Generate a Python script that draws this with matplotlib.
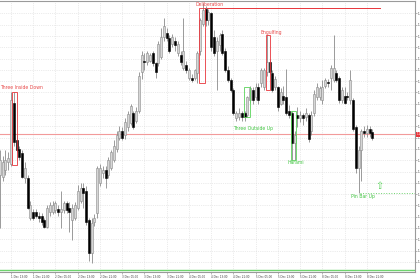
import numpy as np
import matplotlib.pyplot as plt
from matplotlib.patches import Rectangle
import matplotlib.transforms as mtransforms

# H1 candles, bar 4 = 1 Dec 13:00
opens = [1.2317, 1.2315, 1.2321, 1.2328, 1.2327, 1.2381, 1.2348, 1.2340, 1.2336, 1.2314,
         1.2314, 1.2279, 1.2284, 1.2284, 1.2281, 1.2281, 1.2277, 1.2271, 1.2284, 1.2284,
         1.2286, 1.2287, 1.2284, 1.2286, 1.2292, 1.2288, 1.2277, 1.2279, 1.2288, 1.2294,
         1.2305, 1.2303, 1.2277, 1.2248, 1.2275, 1.2283, 1.2310, 1.2319, 1.2321, 1.2317,
         1.2323, 1.2330, 1.2340, 1.2350, 1.2356, 1.2352, 1.2359, 1.2363, 1.2372, 1.2365,
         1.2374, 1.2408, 1.2418, 1.2417, 1.2418, 1.2425, 1.2416, 1.2416, 1.2421, 1.2439,
         1.2443, 1.2438, 1.2433, 1.2436, 1.2425, 1.2423, 1.2412, 1.2414, 1.2403, 1.2403,
         1.2403, 1.2407, 1.2427, 1.2451, 1.2464, 1.2454, 1.2460, 1.2439, 1.2427, 1.2432,
         1.2442, 1.2427, 1.2410, 1.2401, 1.2392, 1.2367, 1.2368, 1.2372, 1.2372, 1.2370,
         1.2383, 1.2392, 1.2386, 1.2395, 1.2398, 1.2395, 1.2408, 1.2417, 1.2407, 1.2395,
         1.2395, 1.2380, 1.2387, 1.2386, 1.2374, 1.2372, 1.2345, 1.2370, 1.2367, 1.2370,
         1.2368, 1.2370, 1.2356, 1.2372, 1.2386, 1.2386, 1.2383, 1.2396, 1.2399, 1.2403,
         1.2401, 1.2407, 1.2403, 1.2383, 1.2387, 1.2387, 1.2383, 1.2383, 1.2359, 1.2323,
         1.2339, 1.2356, 1.2354, 1.2358, 1.2355]
highs = [1.2339, 1.2334, 1.2339, 1.2337, 1.2390, 1.2390, 1.2352, 1.2343, 1.2339, 1.2328,
         1.2317, 1.2294, 1.2287, 1.2287, 1.2284, 1.2283, 1.2279, 1.2290, 1.2293, 1.2294,
         1.2294, 1.2290, 1.2303, 1.2294, 1.2294, 1.2293, 1.2291, 1.2293, 1.2308, 1.2310,
         1.2310, 1.2307, 1.2279, 1.2279, 1.2282, 1.2325, 1.2327, 1.2325, 1.2325, 1.2333,
         1.2339, 1.2348, 1.2356, 1.2360, 1.2359, 1.2367, 1.2374, 1.2380, 1.2374, 1.2377,
         1.2408, 1.2427, 1.2425, 1.2427, 1.2425, 1.2427, 1.2417, 1.2436, 1.2447, 1.2456,
         1.2447, 1.2441, 1.2442, 1.2439, 1.2436, 1.2427, 1.2456, 1.2418, 1.2412, 1.2406,
         1.2411, 1.2427, 1.2456, 1.2469, 1.2467, 1.2464, 1.2461, 1.2445, 1.2439, 1.2443,
         1.2445, 1.2429, 1.2413, 1.2403, 1.2394, 1.2374, 1.2376, 1.2374, 1.2374, 1.2387,
         1.2396, 1.2395, 1.2398, 1.2398, 1.2412, 1.2412, 1.2441, 1.2420, 1.2410, 1.2405,
         1.2396, 1.2394, 1.2396, 1.2411, 1.2379, 1.2374, 1.2356, 1.2377, 1.2374, 1.2372,
         1.2376, 1.2372, 1.2374, 1.2392, 1.2398, 1.2396, 1.2401, 1.2403, 1.2402, 1.2414,
         1.2441, 1.2410, 1.2405, 1.2395, 1.2395, 1.2390, 1.2410, 1.2385, 1.2361, 1.2343,
         1.2358, 1.2360, 1.2361, 1.2360, 1.2358]
lows = [1.2270, 1.2312, 1.2317, 1.2321, 1.2325, 1.2343, 1.2337, 1.2330, 1.2314, 1.2310,
        1.2287, 1.2277, 1.2277, 1.2279, 1.2275, 1.2273, 1.2270, 1.2270, 1.2281, 1.2282,
        1.2283, 1.2281, 1.2270, 1.2283, 1.2283, 1.2266, 1.2259, 1.2277, 1.2286, 1.2292,
        1.2288, 1.2273, 1.2241, 1.2239, 1.2272, 1.2279, 1.2307, 1.2314, 1.2305, 1.2314,
        1.2321, 1.2328, 1.2337, 1.2348, 1.2348, 1.2349, 1.2356, 1.2361, 1.2358, 1.2363,
        1.2372, 1.2402, 1.2410, 1.2414, 1.2417, 1.2413, 1.2403, 1.2413, 1.2420, 1.2436,
        1.2436, 1.2425, 1.2430, 1.2427, 1.2422, 1.2414, 1.2410, 1.2407, 1.2401, 1.2399,
        1.2401, 1.2398, 1.2423, 1.2449, 1.2449, 1.2450, 1.2427, 1.2422, 1.2392, 1.2427,
        1.2423, 1.2408, 1.2399, 1.2390, 1.2370, 1.2365, 1.2366, 1.2365, 1.2365, 1.2368,
        1.2381, 1.2380, 1.2383, 1.2380, 1.2395, 1.2392, 1.2405, 1.2406, 1.2390, 1.2392,
        1.2374, 1.2379, 1.2380, 1.2370, 1.2367, 1.2330, 1.2330, 1.2359, 1.2364, 1.2361,
        1.2365, 1.2346, 1.2352, 1.2369, 1.2383, 1.2383, 1.2380, 1.2394, 1.2395, 1.2392,
        1.2399, 1.2399, 1.2381, 1.2381, 1.2380, 1.2383, 1.2380, 1.2356, 1.2319, 1.2301,
        1.2312, 1.2351, 1.2351, 1.2351, 1.2348]
closes = [1.2330, 1.2328, 1.2330, 1.2332, 1.2383, 1.2346, 1.2339, 1.2333, 1.2315, 1.2323,
          1.2288, 1.2290, 1.2279, 1.2281, 1.2279, 1.2275, 1.2271, 1.2288, 1.2290, 1.2290,
          1.2292, 1.2284, 1.2287, 1.2292, 1.2286, 1.2284, 1.2288, 1.2290, 1.2303, 1.2305,
          1.2301, 1.2275, 1.2248, 1.2274, 1.2279, 1.2323, 1.2323, 1.2321, 1.2314, 1.2330,
          1.2337, 1.2343, 1.2352, 1.2356, 1.2350, 1.2364, 1.2371, 1.2378, 1.2359, 1.2374,
          1.2405, 1.2423, 1.2417, 1.2425, 1.2423, 1.2416, 1.2408, 1.2433, 1.2439, 1.2449,
          1.2438, 1.2427, 1.2439, 1.2432, 1.2433, 1.2417, 1.2427, 1.2410, 1.2410, 1.2401,
          1.2410, 1.2425, 1.2454, 1.2463, 1.2454, 1.2461, 1.2430, 1.2425, 1.2436, 1.2441,
          1.2425, 1.2410, 1.2401, 1.2392, 1.2372, 1.2372, 1.2372, 1.2368, 1.2368, 1.2386,
          1.2394, 1.2383, 1.2395, 1.2383, 1.2410, 1.2410, 1.2417, 1.2408, 1.2392, 1.2402,
          1.2377, 1.2390, 1.2383, 1.2372, 1.2370, 1.2345, 1.2352, 1.2367, 1.2370, 1.2367,
          1.2372, 1.2349, 1.2370, 1.2389, 1.2395, 1.2394, 1.2395, 1.2401, 1.2398, 1.2412,
          1.2412, 1.2401, 1.2383, 1.2392, 1.2381, 1.2386, 1.2401, 1.2358, 1.2323, 1.2339,
          1.2356, 1.2354, 1.2358, 1.2354, 1.2350]

tick_bars = [-4, 4, 12, 20, 28, 36, 44, 52, 60, 68, 76, 84, 92, 100, 108, 116, 124, 132]
tick_labels = ['1 Dec 05:00', '1 Dec 13:00', '1 Dec 21:00', '2 Dec 05:00', '2 Dec 13:00',
               '2 Dec 21:00', '3 Dec 05:00', '3 Dec 13:00', '3 Dec 21:00', '4 Dec 05:00',
               '4 Dec 13:00', '4 Dec 21:00', '5 Dec 05:00', '5 Dec 13:00', '5 Dec 21:00',
               '8 Dec 05:00', '8 Dec 13:00', '8 Dec 21:00']
price_ticks = [1.2240, 1.2250, 1.2260, 1.2270, 1.2280, 1.2290, 1.2300, 1.2310, 1.2320,
               1.2330, 1.2340, 1.2350, 1.2360, 1.2370, 1.2380, 1.2390, 1.2400, 1.2410,
               1.2420, 1.2430, 1.2440, 1.2450, 1.2460]

red_level = 1.2353
green_level = 1.2233
pin_level = 1.2301
top_level = 1.2465

# name, first bar, last bar, low, high, colour, label bar, label price
patterns = [
    ('Three Inside Down', 4.4, 6.2, 1.2326, 1.2390, 'red', 0.1, 1.2394),
    ('Deliberation', 71.6, 73.8, 1.2398, 1.2465, 'red', 70.5, 1.2468),
    ('Engulfing', 95.7, 97.2, 1.2392, 1.2441, 'red', 93.6, 1.2443),
    ('Three Outside Up', 87.8, 90.0, 1.2368, 1.2395, 'green', 83.9, 1.2358),
    ('Harami', 104.6, 106.4, 1.2330, 1.2374, 'green', 103.6, 1.2328),
    ('Pin Bar Up', 128.6, 129.4, 1.2301, 1.2343, 'green', 126.3, 1.2298),
]
colours = {'red': '#e8343a', 'green': '#5ad35a'}
text_colours = {'red': '#e84a4a', 'green': '#3fc43f'}

fig = plt.figure(figsize=(4.2, 2.8), dpi=100)
ax = fig.add_axes([0, 8 / 280, 415 / 420, 271 / 280])

x = np.arange(len(opens))
o = np.array(opens)
h = np.array(highs)
l = np.array(lows)
c = np.array(closes)
up = c >= o

ax.vlines(x, l, h, color='#8a8a8a', lw=0.6, zorder=3)
ax.bar(x[up], c[up] - o[up], bottom=o[up], width=0.72, color='#d6d6d6',
       edgecolor='#8a8a8a', linewidth=0.4, zorder=4)
ax.bar(x[~up], o[~up] - c[~up], bottom=c[~up], width=0.72, color='black',
       edgecolor='black', linewidth=0.4, zorder=4)

# horizontal objects
ax.axhline(red_level, color='#f29a9a', lw=0.8, zorder=2)
ax.axhline(green_level, color='#6fd46f', lw=1.0, zorder=2)
ax.plot([129.5, 149.3], [pin_level, pin_level], color='#6fd46f', lw=0.7, ls=':', zorder=2)
ax.plot([73.8, 136.7], [top_level, top_level], color='#e8343a', lw=0.7, zorder=2)

for name, b0, b1, lo, hi, col, tx, ty in patterns:
    if name != 'Pin Bar Up':
        ax.add_patch(Rectangle((b0, lo), b1 - b0, hi - lo, fill=False,
                               edgecolor=colours[col], lw=0.6, zorder=5))
    ax.text(tx, ty, name, fontsize=3.3, color=text_colours[col], va='center',
            ha='left', zorder=6)

# pin bar arrow
ax.text(136.4, 1.2307, '\u21e7', fontsize=7, color='#5ad35a', ha='center', va='center')

# axes styling
ax.set_xticks(tick_bars)
ax.set_xticklabels(tick_labels, ha='left')
ax.set_yticks(price_ticks)
ax.set_yticklabels(['%.4f' % p for p in price_ticks])
ax.set_xlim(0.04, 149.3)
ax.set_ylim(1.2231, 1.2471)
ax.yaxis.tick_right()
ax.tick_params(axis='both', labelsize=2.0, length=1.5, width=0.4, color='#808080',
               labelcolor='#404040', pad=0.8)
ax.grid(True, color='#d9d9d9', ls=':', lw=0.5)
ax.set_axisbelow(True)
for side in ['top', 'right', 'bottom']:
    ax.spines[side].set_color('#9a9a9a')
    ax.spines[side].set_linewidth(0.8)
ax.spines['left'].set_visible(False)

trans = mtransforms.blended_transform_factory(ax.transAxes, ax.transData)
ax.text(1.004, red_level, '1.2353', transform=trans, fontsize=2.0, color='white',
        va='center', ha='left', bbox=dict(boxstyle='square,pad=0.15', fc='#e8343a', ec='none'))

fig.savefig('out.png', dpi=100)
